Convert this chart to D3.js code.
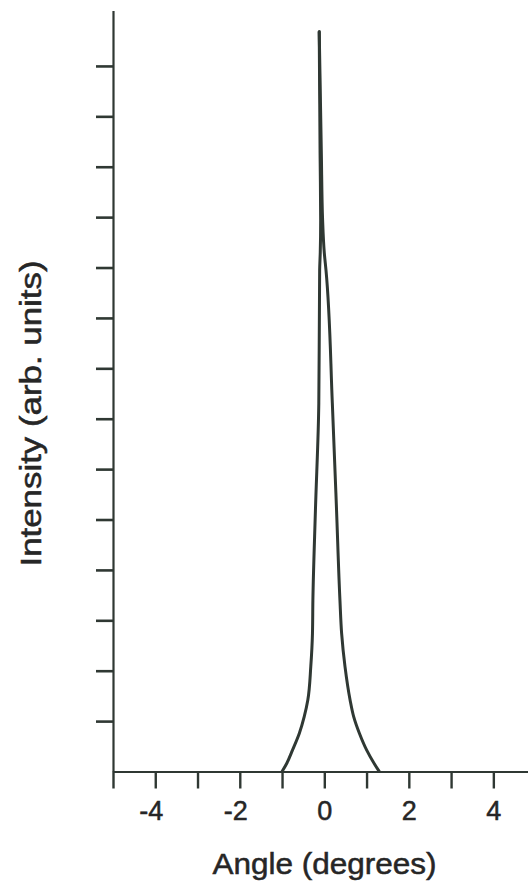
<!DOCTYPE html>
<html>
<head>
<meta charset="utf-8">
<script src="https://d3js.org/d3.v7.min.js"></script>
<style>
  body { margin: 0; background: #fff; }
  svg { display: block; }
</style>
</head>
<body>
<div id="chart"></div>
<script>
// Profile: left foot -> peak -> right foot
var profileAngle = [-1.00, -0.89, -0.75, -0.59, -0.475, -0.39, -0.32, -0.28, -0.27, -0.21, -0.13, -0.11, -0.096, -0.086, -0.10, -0.12,
                    -0.07, -0.04, 0.00, 0.04, 0.19, 0.29, 0.37, 0.41, 0.49, 0.61, 0.695, 0.83, 1.00, 1.18, 1.30];
var profileIntensity = [0, 0.16, 0.43, 0.76, 1.09, 1.42, 2.08, 2.74, 3.40, 5.18, 7.31, 9.95, 10.29, 10.94, 12.27, 14.68,
                        12.27, 10.94, 10.29, 9.95, 7.31, 5.18, 3.40, 2.74, 2.08, 1.42, 1.09, 0.76, 0.43, 0.16, 0];

var xTickValues = [-5, -4, -3, -2, -1, 0, 1, 2, 3, 4];
var xTickLabels = ["", "-4", "", "-2", "", "0", "", "2", "", "4"];
var yTickValues = [1, 2, 3, 4, 5, 6, 7, 8, 9, 10, 11, 12, 13, 14];

var svgWidth = 528;
var svgHeight = 891;
var ink = "#2f3833";
var textInk = "#262626";
var fontFamily = "Liberation Sans, Arial, sans-serif";

var svg = d3.select("#chart")
    .append("svg")
    .attr("width", svgWidth)
    .attr("height", svgHeight);

// Scales
var xScale = d3.scaleLinear()
    .domain([-5, 5])
    .range([113, 535.6]);

var yScale = d3.scaleLinear()
    .domain([0, 15.1])
    .range([771.5, 10.5]);

// X axis
var bottomAxis = d3.axisBottom(xScale)
    .tickValues(xTickValues)
    .tickSize(17)
    .tickSizeOuter(0)
    .tickFormat((d, i) => xTickLabels[i]);

var xAxis = svg.append("g")
    .attr("transform", `translate(0, ${yScale(0)})`)
    .call(bottomAxis);

xAxis.select(".domain")
    .attr("stroke", ink)
    .attr("stroke-width", 2.2);
xAxis.selectAll(".tick line")
    .attr("stroke", ink)
    .attr("stroke-width", 2.4);
// keep the digit centred under its tick, the minus hangs to the left
xAxis.selectAll(".tick text")
    .attr("fill", textInk)
    .attr("stroke", textInk)
    .attr("stroke-width", 0.5)
    .attr("font-family", fontFamily)
    .attr("font-size", 27)
    .attr("text-anchor", "end")
    .attr("x", 7.5)
    .attr("y", 48.5)
    .attr("dy", 0);

// Y axis, ticks only
var leftAxis = d3.axisLeft(yScale)
    .tickValues(yTickValues)
    .tickSize(17)
    .tickSizeOuter(0)
    .tickFormat("");

var yAxis = svg.append("g")
    .attr("transform", `translate(${xScale(-5)}, 0)`)
    .call(leftAxis);

yAxis.select(".domain")
    .attr("stroke", ink)
    .attr("stroke-width", 2.2);
yAxis.selectAll(".tick line")
    .attr("stroke", ink)
    .attr("stroke-width", 2.6);

// Peak: drawn as two branches running down from the top so each is monotone in y
var profile = profileAngle.map((a, i) => ({angle: a, intensity: profileIntensity[i]}));
var peakIndex = d3.maxIndex(profile, d => d.intensity);
var leftBranch = profile.slice(0, peakIndex + 1).reverse();
var rightBranch = profile.slice(peakIndex);

var line = d3.line()
    .x(d => xScale(d.angle))
    .y(d => yScale(d.intensity))
    .curve(d3.curveMonotoneY);

svg.selectAll(".branch")
    .data([leftBranch, rightBranch])
    .enter()
    .append("path")
    .attr("class", "branch")
    .attr("d", line)
    .attr("fill", "none")
    .attr("stroke", ink)
    .attr("stroke-width", 3)
    .attr("stroke-linejoin", "round")
    .attr("stroke-linecap", "round");

// Axis titles
svg.append("text")
    .attr("x", 324.5)
    .attr("y", 874)
    .attr("text-anchor", "middle")
    .attr("font-family", fontFamily)
    .attr("font-size", 29)
    .attr("fill", textInk)
    .attr("stroke", textInk)
    .attr("stroke-width", 0.5)
    .attr("textLength", 224)
    .attr("lengthAdjust", "spacingAndGlyphs")
    .text("Angle (degrees)");

svg.append("text")
    .attr("transform", "translate(41, 413.5) rotate(-90)")
    .attr("text-anchor", "middle")
    .attr("font-family", fontFamily)
    .attr("font-size", 29)
    .attr("fill", textInk)
    .attr("stroke", textInk)
    .attr("stroke-width", 0.5)
    .attr("textLength", 306)
    .attr("lengthAdjust", "spacingAndGlyphs")
    .text("Intensity (arb. units)");
</script>
</body>
</html>
